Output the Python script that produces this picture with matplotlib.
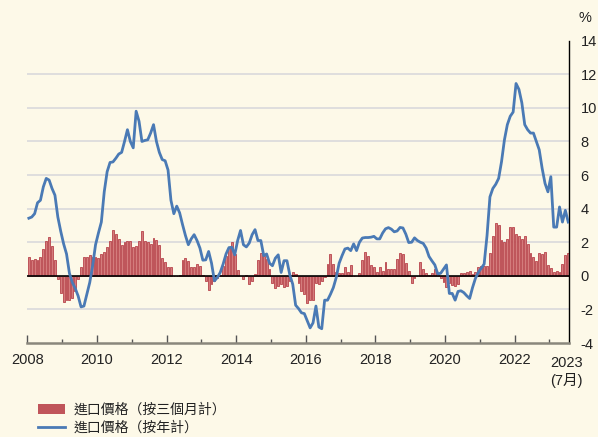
import matplotlib.pyplot as plt
import numpy as np
from matplotlib.lines import Line2D
from matplotlib.patches import Patch

plt.rcParams['font.family'] = ['Liberation Sans', 'Noto Sans CJK TC']
plt.rcParams['axes.unicode_minus'] = False

# 每月數據, 2008年1月 至 2023年7月
start_year = 2008
bar_label = '進口價格（按三個月計）'
line_label = '進口價格（按年計）'

three_month = [
    1.1, 0.95, 1.0, 0.93, 1.13, 1.6, 2.05, 2.3, 1.8, 0.93,
    -0.2, -1.0, -1.55, -1.45, -1.43, -1.3, -0.9, -0.16, 0.5, 1.13,
    1.1, 1.23, 1.13, 1.1, 1.05, 1.3, 1.4, 1.7, 2.1, 2.7,
    2.5, 2.2, 1.85, 2.0, 2.1, 2.1, 1.7, 1.75, 2.1, 2.65,
    2.1, 2.0, 1.9, 2.25, 2.15, 1.85, 1.05, 0.8, 0.5, 0.55,
    0.0, 0.0, 0.05, 0.95, 1.05, 0.9, 0.55, 0.55, 0.7, 0.6,
    0.05, -0.3, -0.85, -0.5, -0.3, -0.15, 0.05, 0.6, 1.2, 1.7,
    2.0, 1.3, 0.35, 0.0, -0.2, 0.05, -0.5, -0.3, 0.1, 0.95,
    1.35, 1.2, 1.0, 0.4, -0.45, -0.7, -0.6, -0.5, -0.65, -0.6,
    -0.3, 0.2, 0.1, -0.45, -0.9, -1.1, -1.6, -1.45, -1.45, -0.45,
    -0.5, -0.3, -0.1, 0.73, 1.3, 0.73, 0.25, 0.15, 0.15, 0.5,
    0.2, 0.65, 0.0, 0.0, 0.15, 0.93, 1.42, 1.2, 0.65, 0.5,
    0.2, 0.5, 0.3, 0.83, 0.4, 0.4, 0.4, 1.0, 1.35, 1.3,
    0.75, 0.3, -0.4, -0.12, 0.0, 0.85, 0.43, 0.18, 0.05, 0.14,
    0.4, 0.02, -0.15, -0.35, -0.65, -0.4, -0.55, -0.6, -0.5, 0.14,
    0.18, 0.23, 0.27, 0.1, 0.2, 0.5, 0.57, 0.6, 0.6, 1.35,
    2.35, 3.15, 3.05, 2.15, 2.0, 2.2, 2.9, 2.9, 2.5, 2.35,
    2.2, 2.35, 1.9, 1.35, 1.15, 0.9, 1.35, 1.3, 1.4, 0.65,
    0.45, 0.25, 0.3, 0.22, 0.7, 1.25, 1.35,
]

yearly = [
    3.43, 3.5, 3.7, 4.35, 4.5, 5.3, 5.8, 5.7, 5.2, 4.8,
    3.5, 2.65, 1.9, 1.3, 0.15, -0.4, -0.75, -1.2, -1.85, -1.8,
    -1.1, -0.4, 0.6, 1.85, 2.55, 3.2, 5.0, 6.2, 6.75, 6.78,
    7.0, 7.25, 7.35, 8.0, 8.7, 8.0, 7.62, 9.8, 9.2, 8.0,
    8.06, 8.1, 8.5, 9.0, 8.0, 7.35, 6.92, 6.85, 6.3, 4.5,
    3.7, 4.15, 3.75, 3.05, 2.4, 1.85, 2.2, 2.45, 2.1, 1.65,
    0.93, 0.95, 1.45, 0.75, -0.3, -0.1, 0.2, 0.7, 1.3, 1.68,
    1.7, 1.25, 2.1, 2.7, 1.85, 1.72, 1.95, 2.45, 2.75, 2.1,
    2.1, 1.2, 1.3, 0.75, 0.6, 1.05, 1.25, 0.2, 0.9, 0.9,
    0.05, -0.5, -1.75, -1.95, -2.2, -2.25, -2.67, -3.1, -2.8, -1.8,
    -3.05, -3.15, -1.45, -1.45, -1.1, -0.7, -0.1, 0.75, 1.2, 1.6,
    1.65, 1.5, 1.9, 1.5, 2.0, 2.25, 2.28, 2.28, 2.3, 2.35,
    2.2, 2.2, 2.55, 2.8, 2.87, 2.78, 2.62, 2.67, 2.88, 2.85,
    2.48, 1.98, 2.0, 2.26, 2.1, 2.0, 1.93, 1.65, 1.15, 0.89,
    0.65, 0.12, 0.15, 0.4, 0.65, -1.05, -1.05, -1.45, -0.93, -0.89,
    -1.0, -1.19, -1.35, -0.7, -0.15, 0.2, 0.45, 0.7, 2.4, 4.7,
    5.2, 5.45, 5.8, 6.8, 8.1, 9.0, 9.5, 9.75, 11.45, 11.1,
    10.3, 9.0, 8.7, 8.5, 8.5, 8.0, 7.5, 6.4, 5.5, 5.0,
    5.9, 2.9, 2.9, 4.1, 3.2, 3.9, 3.2,
]

months = np.arange(len(three_month))
x = start_year + (months + 0.5) / 12

bg = '#fdf9e8'
bar_face = '#d47c7c'
bar_edge = '#b8434b'
line_color = '#4a7ab5'

fig = plt.figure(figsize=(5.98, 4.37), dpi=100)
fig.patch.set_facecolor(bg)
ax = fig.add_axes([0.0458, 0.2151, 0.9062, 0.6918])
ax.set_facecolor(bg)

# 網格
for g in [-2, 2, 4, 6, 8, 10, 12]:
    ax.axhline(g, color='#dcdcdc', lw=1.3, zorder=0)

ax.bar(x, three_month, width=0.65 / 12, color=bar_face, edgecolor=bar_edge,
       linewidth=0.6, zorder=2)
ax.axhline(0, color='black', lw=1.2, zorder=3)
ax.plot(x, yearly, color=line_color, lw=2.0, zorder=4)

ax.set_xlim(2008, 2023.572)
ax.set_ylim(-4, 14)

for s in ['left', 'top']:
    ax.spines[s].set_visible(False)
ax.spines['right'].set_color('black')
ax.spines['right'].set_linewidth(1.0)
ax.spines['bottom'].set_color('#8a877c')
ax.spines['bottom'].set_linewidth(1.8)

ax.yaxis.tick_right()
ax.set_yticks(range(-4, 15, 2))
ax.tick_params(axis='y', length=0, pad=8, labelsize=10.5, labelcolor='#222222')

ax.set_xticks(range(2008, 2023, 2))
ax.set_xticklabels([str(y) for y in range(2008, 2023, 2)])
ax.set_xticks(range(2009, 2024, 2), minor=True)
ax.tick_params(axis='x', which='major', direction='in', length=6, width=1.0,
               color='#555555', pad=7, labelsize=10.5, labelcolor='#222222')
ax.tick_params(axis='x', which='minor', direction='in', length=3, width=1.0,
               color='#555555')

ax.text(2023.5, -4.75, '2023\n(7月)', ha='center', va='top', fontsize=10.5,
        color='#222222', linespacing=1.25)
fig.text(585 / 598, 1 - 18 / 437, '%', ha='center', va='center', fontsize=10.5,
         color='#222222')

handles = [Patch(facecolor='#c0555a', edgecolor='none'),
           Line2D([0], [0], color=line_color, lw=2.0)]
fig.legend(handles, [bar_label, line_label], loc='upper left',
           bbox_to_anchor=(32 / 598, 1 - 397 / 437), frameon=False,
           prop={'family': ['Noto Sans CJK TC', 'DejaVu Sans'], 'size': 10},
           handlelength=2.0, labelspacing=0.3,
           handletextpad=0.6, borderaxespad=0, labelcolor='#222222')

fig.savefig('out.png', dpi=100, facecolor=bg)
